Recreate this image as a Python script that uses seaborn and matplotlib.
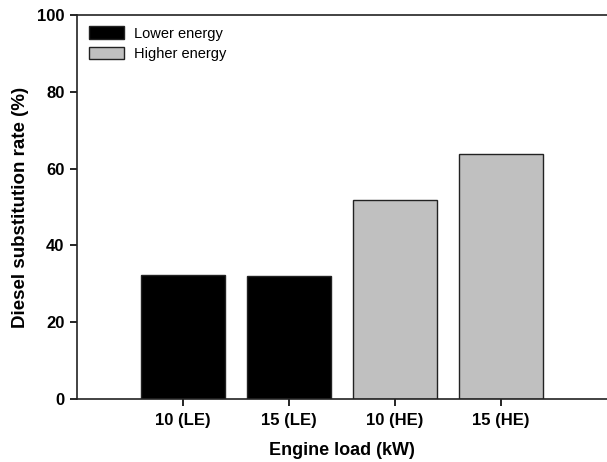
import pandas as pd
import seaborn as sns
import matplotlib.pyplot as plt
from matplotlib.patches import Patch

# Diesel substitution rate per engine load / energy level
loads = ['10 (LE)', '15 (LE)', '10 (HE)', '15 (HE)']
energy = ['Lower energy', 'Lower energy', 'Higher energy', 'Higher energy']
dsr = [32.4, 32.1, 51.8, 63.8]

df = pd.DataFrame({'load': loads, 'energy': energy, 'dsr': dsr})
colors = {'Lower energy': '#000000', 'Higher energy': '#c0c0c0'}

sns.set_style('ticks')
plt.rcParams['font.family'] = ['Liberation Sans', 'DejaVu Sans']
plt.rcParams['text.color'] = 'black'
plt.rcParams['axes.labelcolor'] = 'black'
plt.rcParams['xtick.color'] = 'black'
plt.rcParams['ytick.color'] = 'black'
plt.rcParams['axes.edgecolor'] = '#222222'

fig = plt.figure(figsize=(6.07, 4.62), dpi=100)
ax = fig.add_axes([0.127, 0.136, 0.873, 0.832])

sns.barplot(data=df, x='load', y='dsr', hue='energy', palette=colors,
            dodge=False, width=0.8, edgecolor='#222222', linewidth=1.0,
            legend=False, ax=ax)

ax.set_xlim(-1, 4)
ax.set_ylim(0, 100)
ax.set_yticks([0, 20, 40, 60, 80, 100])
ax.spines['right'].set_visible(False)
for s in ['top', 'left', 'bottom']:
    ax.spines[s].set_linewidth(1.2)
ax.tick_params(direction='out', length=5, width=1.2, labelsize=12, pad=4)
ax.tick_params(axis='x', pad=5)
for lab in ax.get_xticklabels() + ax.get_yticklabels():
    lab.set_fontweight('bold')

ax.set_xlabel('Engine load (kW)', fontsize=13, fontweight='bold', labelpad=10)
ax.set_ylabel('Diesel substitution rate (%)', fontsize=13.5, fontweight='bold', labelpad=6)

handles = [Patch(facecolor=colors[k], edgecolor='#222222', label=k)
           for k in ['Lower energy', 'Higher energy']]
ax.legend(handles=handles, loc='upper left', frameon=False, fontsize=10.5,
          handlelength=2.4, handleheight=0.9, handletextpad=0.7,
          labelspacing=0.45, borderaxespad=0.4, bbox_to_anchor=(0.0, 1.0))

fig.savefig('out.png', dpi=100)
